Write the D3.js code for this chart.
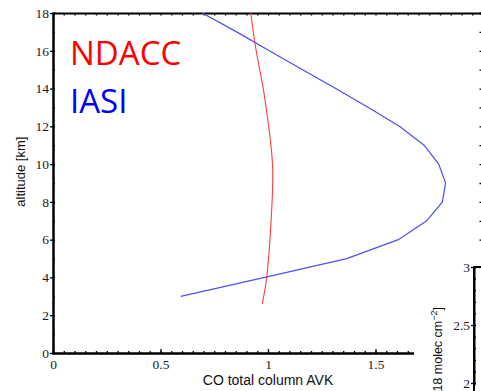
<!DOCTYPE html>
<html>
<head>
<meta charset="utf-8">
<script src="https://cdn.jsdelivr.net/npm/d3@7"></script>
<style>
  body { margin: 0; background: white; }
  svg { display: block; }
</style>
</head>
<body>
<svg id="chart" width="481" height="391"></svg>
<script>
// NDACC averaging kernel (altitude km -> AVK)
const ndaccAlt = [2.6, 4, 6, 8, 10, 12, 14, 16, 18];
const ndaccAvk = [0.973, 0.994, 1.009, 1.019, 1.021, 1.003, 0.978, 0.945, 0.92];
// IASI averaging kernel
const iasiAlt = [3, 4, 5, 6, 7, 8, 9, 10, 11, 12, 13, 14, 15, 16, 17, 18];
const iasiAvk = [0.594, 0.985, 1.366, 1.606, 1.738, 1.811, 1.826, 1.794, 1.726, 1.611, 1.467, 1.315, 1.161, 1.006, 0.854, 0.694];
const xTicks = [0, 0.5, 1, 1.5];
const yTicks = [0, 2, 4, 6, 8, 10, 12, 14, 16, 18];
const inset = { ticks: [2, 2.5, 3], labels: ["2", "2.5", "3"] };

const svg = d3.select("#chart");
const mLeft = 53, mTop = 13, mRight = 483, mBottom = 353;

const x = d3.scaleLinear().domain([0, 2]).range([mLeft, mRight]);
const y = d3.scaleLinear().domain([0, 18]).range([mBottom, mTop]);

const minorX = d3.range(0, 2.001, 0.05);
const minorY = d3.range(0, 18.001, 1);

function styleAxis(g) {
  g.select(".domain").attr("stroke", "#000").attr("stroke-width", 2);
  g.selectAll(".tick line").attr("stroke", "#000").attr("stroke-width", 1.3);
  g.selectAll(".tick text")
    .attr("font-family", "Liberation Serif, DejaVu Serif, serif")
    .attr("font-size", 13.5).attr("fill", "#1a1a1a");
}

// bottom
svg.append("g").attr("transform", `translate(0,${mBottom})`)
  .call(d3.axisBottom(x).tickValues(minorX).tickSize(-2).tickFormat(""))
  .call(styleAxis);
svg.append("g").attr("transform", `translate(0,${mBottom})`)
  .call(d3.axisBottom(x).tickValues(xTicks).tickSizeInner(-4).tickSizeOuter(0).tickPadding(6)
    .tickFormat(d => d === 0 ? "0" : d3.format("")(d)))
  .call(styleAxis)
  .call(g => g.selectAll(".tick text").attr("y", 5).attr("dy", "0.8em"));

// top
svg.append("g").attr("transform", `translate(0,${mTop})`)
  .call(d3.axisTop(x).tickValues(minorX).tickSize(-2.5).tickFormat(""))
  .call(styleAxis);

// left
svg.append("g").attr("transform", `translate(${mLeft},0)`)
  .call(d3.axisLeft(y).tickValues(minorY).tickSize(-2).tickFormat(""))
  .call(styleAxis);
svg.append("g").attr("transform", `translate(${mLeft},0)`)
  .call(d3.axisLeft(y).tickValues(yTicks).tickSizeInner(3).tickSizeOuter(0).tickPadding(1))
  .call(styleAxis);

// right
svg.append("g").attr("transform", `translate(${mRight - 1},0)`)
  .call(d3.axisRight(y).tickValues(minorY).tickSize(-2.5).tickFormat(""))
  .call(styleAxis);

// axis titles
svg.append("text")
  .attr("x", x(1)).attr("y", 385)
  .attr("text-anchor", "middle")
  .attr("font-family", "Liberation Sans, Arial, sans-serif")
  .attr("font-size", 14).attr("fill", "#111")
  .text("CO total column AVK");

svg.append("text")
  .attr("transform", `translate(25,${y(9.6)}) rotate(-90)`)
  .attr("text-anchor", "middle")
  .attr("font-family", "Liberation Sans, Arial, sans-serif")
  .attr("font-size", 13).attr("fill", "#111")
  .text("altitude [km]");

// curves
const line = d3.line().x(d => x(d[1])).y(d => y(d[0]));
svg.append("path")
  .datum(ndaccAlt.map((a, i) => [a, ndaccAvk[i]]))
  .attr("d", line.curve(d3.curveNatural))
  .attr("fill", "none").attr("stroke", "#ff3c3c").attr("stroke-width", 1.1);
svg.append("path")
  .datum(iasiAlt.map((a, i) => [a, iasiAvk[i]]))
  .attr("d", line.curve(d3.curveLinear))
  .attr("fill", "none").attr("stroke", "#4f4ff5").attr("stroke-width", 1.2);

// legend text
svg.append("text").attr("x", 70).attr("y", 65)
  .attr("font-family", "Open Sans, Noto Sans, sans-serif").attr("font-size", 33)
  .attr("fill", "#ff0000").text("NDACC");
svg.append("text").attr("x", 70).attr("y", 113)
  .attr("font-family", "Open Sans, Noto Sans, sans-serif").attr("font-size", 33)
  .attr("fill", "#0000ff").text("IASI");

// neighbouring panel, bottom right
svg.append("rect").attr("x", 414).attr("y", 258).attr("width", 70).attr("height", 140).attr("fill", "white");
const y2 = d3.scaleLinear().domain([2, 3]).range([383, 267]);
svg.append("g").attr("transform", "translate(474,0)")
  .call(d3.axisRight(y2).tickValues(d3.range(1.9, 3.001, 0.1)).tickSize(2).tickFormat(""))
  .call(styleAxis);
svg.append("g").attr("transform", "translate(474,0)")
  .call(d3.axisLeft(y2).tickValues(inset.ticks).tickSize(3).tickPadding(1)
    .tickFormat((d, i) => inset.labels[i]))
  .call(styleAxis)
  .call(g => g.select(".domain").remove());
svg.append("line").attr("x1", 474).attr("x2", 474).attr("y1", 266).attr("y2", 391)
  .attr("stroke", "#000").attr("stroke-width", 2);
svg.append("line").attr("x1", 473).attr("x2", 481).attr("y1", 267).attr("y2", 267)
  .attr("stroke", "#000").attr("stroke-width", 2);

const lab = svg.append("text")
  .attr("transform", "translate(442,307) rotate(-90)")
  .attr("text-anchor", "end")
  .attr("font-family", "Liberation Sans, Arial, sans-serif")
  .attr("font-size", 12.5).attr("fill", "#111");
lab.append("tspan").text("[1e18 molec cm");
lab.append("tspan").attr("dy", -5).attr("font-size", 9).text("\u22122");
lab.append("tspan").attr("dy", 5).text("]");
</script>
</body>
</html>
